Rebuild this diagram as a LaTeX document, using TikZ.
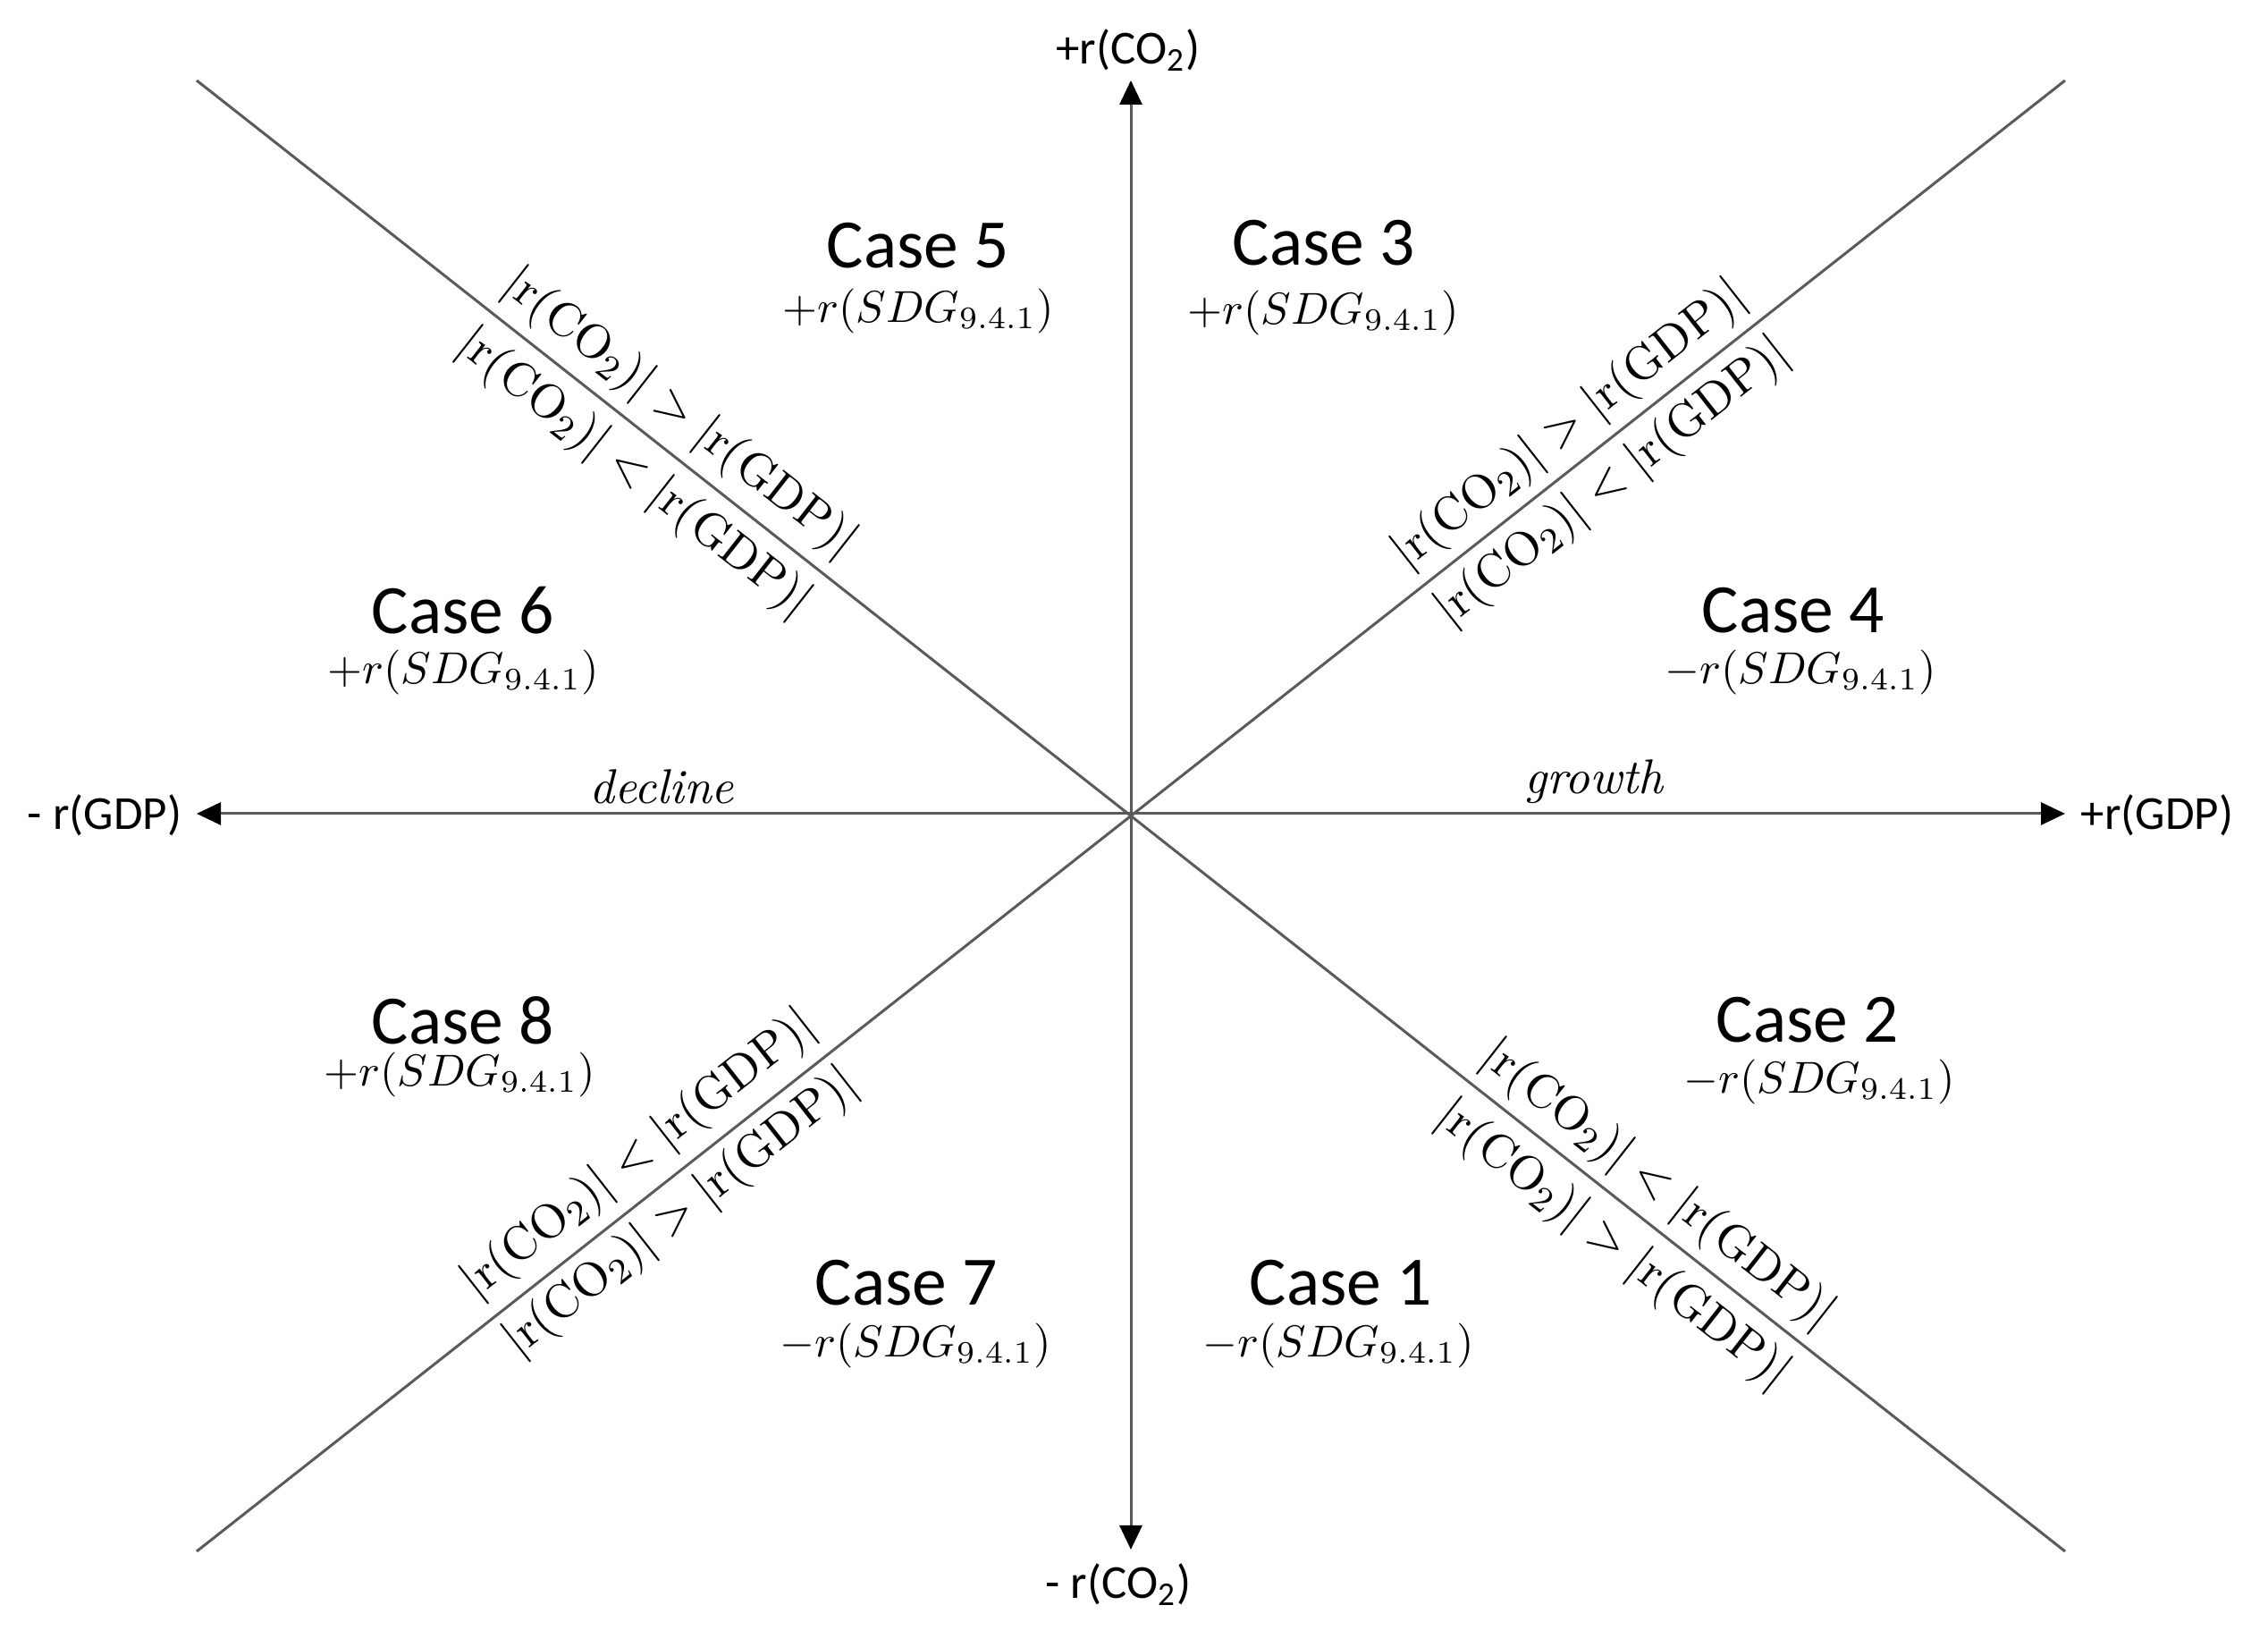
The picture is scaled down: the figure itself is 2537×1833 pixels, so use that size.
\documentclass[tikz,border=0pt]{standalone}
\usepackage{fontspec}
\newfontfamily\calibri{Carlito}
\usetikzlibrary{arrows.meta}
\definecolor{axisgray}{HTML}{5A5A5A}
\newcommand\myGT{$|\mathrm{r}(\mathrm{CO}_2)| > |\mathrm{r}(\mathrm{GDP})|$}
\newcommand\myLT{$|\mathrm{r}(\mathrm{CO}_2)| < |\mathrm{r}(\mathrm{GDP})|$}
\begin{document}
\begin{tikzpicture}[x=0.2pt,y=-0.2pt,
  axisline/.style={draw=axisgray, line width=0.6pt},
  axisarrow/.style={axisline, -{Triangle[length=5.4pt,width=5pt,color=black]}},
  axislabel/.style={font=\calibri\fontsize{10.6}{12}\selectfont, inner sep=0pt},
  casetitle/.style={font=\calibri\fontsize{15.5}{18}\selectfont, inner sep=0pt},
  casesub/.style={font=\fontsize{10.2}{12}\selectfont, inner sep=0pt},
  rel/.style={font=\fontsize{10.8}{13}\selectfont, inner sep=0pt},
  trend/.style={font=\itshape\fontsize{10.9}{13}\selectfont, inner sep=0pt}]
\useasboundingbox (0,0) rectangle (2537,1833);
% centre and axis ends
\coordinate (O) at (1265,910);
\coordinate (N) at (1265,90);
\coordinate (S) at (1265,1733);
\coordinate (W) at (220,910);
\coordinate (E) at (2310,910);
\coordinate (NW) at (220,90);
\coordinate (SE) at (2310,1735);
\coordinate (NE) at (2310,90);
\coordinate (SW) at (220,1735);
% diagonals
\draw[axisline] (NW) -- (SE);
\draw[axisline] (NE) -- (SW);
% axes
\draw[axisarrow] (O) -- (N);
\draw[axisarrow] (O) -- (S);
\draw[axisarrow] (O) -- (W);
\draw[axisarrow] (O) -- (E);
% axis labels
\node[axislabel] (lN) at (1262,56) {+r(CO\textsubscript{2})};
\node[axislabel] (lS) at (1251,1772) {- r(CO\textsubscript{2})};
\node[axislabel] (lW) at (117,912) {- r(GDP)};
\node[axislabel] (lE) at (2413,912) {+r(GDP)};
\node[trend] (dec) at (740,880) {decline};
\node[trend] (gro) at (1783,874) {growth};
% cases
\node[casetitle] (c5) at (1027,275) {Case 5};
\node[casesub] (s5) at (1027,348) {$+r(SDG_{9.4.1})$};
\node[casetitle] (c3) at (1481,272) {Case 3};
\node[casesub] (s3) at (1480,350) {$+r(SDG_{9.4.1})$};
\node[casetitle] (c6) at (518,683) {Case 6};
\node[casesub] (s6) at (518,752) {$+r(SDG_{9.4.1})$};
\node[casetitle] (c4) at (2006,683) {Case 4};
\node[casesub] (s4) at (2014,752) {$-r(SDG_{9.4.1})$};
\node[casetitle] (c8) at (518,1141) {Case 8};
\node[casesub] (s8) at (514,1202) {$+r(SDG_{9.4.1})$};
\node[casetitle] (c2) at (2022,1141) {Case 2};
\node[casesub] (s2) at (2035,1210) {$-r(SDG_{9.4.1})$};
\node[casetitle] (c7) at (1014,1435) {Case 7};
\node[casesub] (s7) at (1024,1505) {$-r(SDG_{9.4.1})$};
\node[casetitle] (c1) at (1500,1435) {Case 1};
\node[casesub] (s1) at (1497,1505) {$-r(SDG_{9.4.1})$};
% diagonal relation labels
\node[rel, rotate=-38.12] (ulA) at (760,463) {\myGT};
\node[rel, rotate=-38.12] (ulB) at (709,530) {\myLT};
\node[rel, rotate=38.12] (urA) at (1756,476) {\myGT};
\node[rel, rotate=38.12] (urB) at (1804,540) {\myLT};
\node[rel, rotate=-38.12] (lrA) at (1854,1326) {\myLT};
\node[rel, rotate=-38.12] (lrB) at (1804,1393) {\myGT};
\node[rel, rotate=38.12] (llA) at (715,1292) {\myLT};
\node[rel, rotate=38.12] (llB) at (762,1357) {\myGT};
\end{tikzpicture}
\end{document}
